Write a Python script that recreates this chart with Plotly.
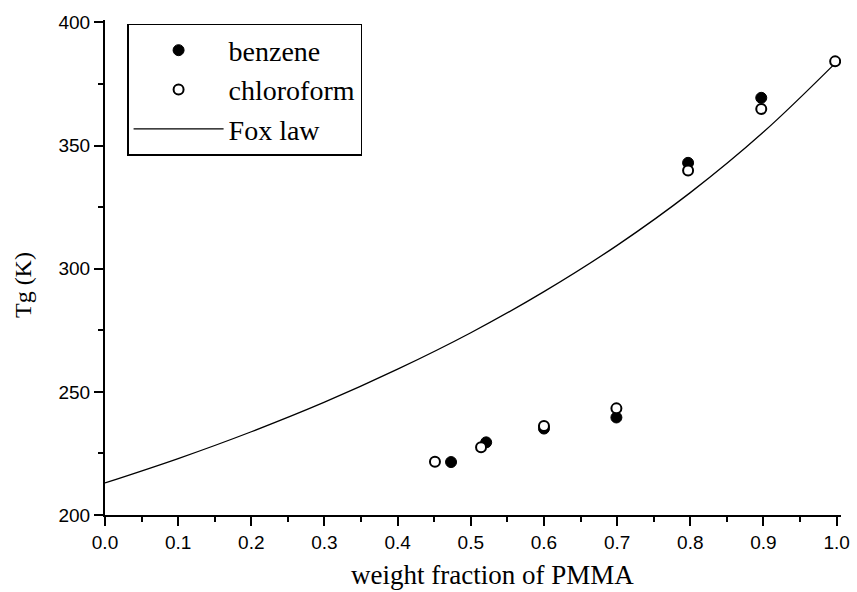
import plotly.graph_objects as go

# Data
benzene_x = [0.473, 0.521, 0.600, 0.699, 0.797, 0.897]
benzene_y = [221.5, 229.5, 235.1, 239.6, 343.0, 369.4]

chloroform_x = [0.451, 0.514, 0.600, 0.699, 0.797, 0.897, 0.998]
chloroform_y = [221.6, 227.5, 236.1, 243.3, 339.9, 364.9, 384.2]

fox_x = [0.0, 0.1, 0.2, 0.3, 0.4, 0.5, 0.6, 0.7, 0.8, 0.9, 1.0]
fox_y = [213.0, 222.9, 233.8, 245.8, 259.2, 274.0, 290.7, 309.5, 330.9, 355.5, 384.0]

x_ticks = [0.0, 0.1, 0.2, 0.3, 0.4, 0.5, 0.6, 0.7, 0.8, 0.9, 1.0]
y_ticks = [200, 250, 300, 350, 400]

x_title = "weight fraction of PMMA"
y_title = "Tg (K)"

serif = "Liberation Serif, Times New Roman, serif"
sans = "Liberation Sans, Arial, sans-serif"

fig = go.Figure()
fig.add_trace(go.Scatter(
    x=fox_x, y=fox_y, mode="lines", name="Fox law",
    line=dict(color="black", width=1.3, shape="spline"), legendrank=3))
fig.add_trace(go.Scatter(
    x=benzene_x, y=benzene_y, mode="markers", name="benzene",
    marker=dict(symbol="circle", size=11, color="black",
                line=dict(color="black", width=1)), legendrank=1))
fig.add_trace(go.Scatter(
    x=chloroform_x, y=chloroform_y, mode="markers", name="chloroform",
    marker=dict(symbol="circle", size=10, color="white",
                line=dict(color="black", width=2)), legendrank=2))

fig.update_layout(
    width=857, height=592,
    margin=dict(l=105, r=16, t=20, b=77),
    paper_bgcolor="white", plot_bgcolor="white",
    showlegend=True,
    legend=dict(
        x=0.03, y=0.992, xanchor="left", yanchor="top",
        bgcolor="white", bordercolor="black", borderwidth=1.5,
        font=dict(family=serif, size=28, color="black"),
        itemwidth=90, tracegroupgap=0,
    ),
    xaxis=dict(
        range=[0, 1.006], tickvals=x_ticks,
        ticktext=[f"{v:.1f}" for v in x_ticks],
        showgrid=False, zeroline=False, automargin=False,
        showline=True, linecolor="black", linewidth=2,
        ticks="outside", ticklen=9, tickwidth=2, tickcolor="black",
        minor=dict(dtick=0.05, tick0=0, ticks="outside", ticklen=5,
                   tickwidth=1.5, tickcolor="black"),
        tickfont=dict(family=sans, size=19, color="black"),
    ),
    yaxis=dict(
        range=[200, 401], tickvals=y_ticks,
        showgrid=False, zeroline=False, automargin=False,
        showline=True, linecolor="black", linewidth=2,
        ticks="outside", ticklen=9, tickwidth=2, tickcolor="black",
        minor=dict(dtick=25, tick0=200, ticks="outside", ticklen=5,
                   tickwidth=1.5, tickcolor="black"),
        tickfont=dict(family=sans, size=19, color="black"),
    ),
    annotations=[
        dict(text=x_title, xref="paper", yref="paper", x=0.526, y=-0.121,
             xanchor="center", yanchor="middle", showarrow=False,
             font=dict(family=serif, size=27, color="black")),
        dict(text=y_title, xref="paper", yref="paper", x=-0.1114, y=0.4646,
             xanchor="center", yanchor="middle", showarrow=False,
             textangle=-90,
             font=dict(family=serif, size=24, color="black")),
    ],
)

fig.write_html("out.html")
